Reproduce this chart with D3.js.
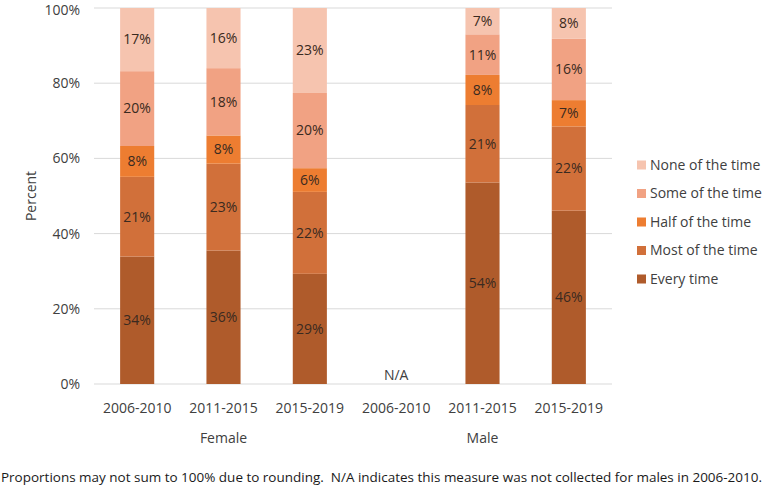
<!DOCTYPE html>
<html><head><meta charset="utf-8">
<script src="https://cdn.jsdelivr.net/npm/d3@7"></script>
<style>
body{margin:0;background:#fff;}
text{font-family:"Open Sans","Noto Sans",sans-serif;}
</style></head>
<body>
<svg id="chart" width="766" height="487"></svg>
<script>
const categories = ["2006-2010","2011-2015","2015-2019","2006-2010","2011-2015","2015-2019"];
const groups = ["Female","Male"];
const groupOf = [0,0,0,1,1,1];
const seriesNames = ["Every time","Most of the time","Half of the time","Some of the time","None of the time"];
const everyTime   = [33.9, 35.5, 29.3, null, 53.6, 46.1];
const mostTime    = [21.2, 23.1, 21.8, null, 20.6, 22.4];
const halfTime    = [8.2, 7.5, 6.3, null, 8.0, 7.0];
const someTime    = [19.9, 17.9, 20.0, null, 10.8, 16.3];
const noneTime    = [16.8, 16.0, 22.6, null, 7.0, 8.2];
const yTicks = [0,20,40,60,80,100];
const colors = ["#AF5B2B","#D1703A","#ED7D31","#F1A283","#F6C4AF"];
const seriesVals = [everyTime, mostTime, halfTime, someTime, noneTime];

const svg = d3.select("#chart");
const m = {l:94, r:154, t:8, b:103};
const W = 766, H = 487;
const x = d3.scaleBand().domain(d3.range(categories.length)).range([m.l, W-m.r]).paddingInner(0.605).paddingOuter(0.3025);
const y = d3.scaleLinear().domain([0,100]).range([H-m.b, m.t]);

// gridlines
svg.append("g").selectAll("line").data(yTicks).join("line")
  .attr("x1", m.l).attr("x2", W-m.r)
  .attr("y1", d=>y(d)).attr("y2", d=>y(d))
  .attr("stroke","#D9D9D9").attr("stroke-width",1);

// y axis labels
const yAxis = d3.axisLeft(y).tickValues(yTicks).tickFormat(d=>d+"%").tickSize(0).tickPadding(14);
const ya = svg.append("g").attr("transform",`translate(${m.l},0)`).call(yAxis);
ya.select(".domain").remove();
ya.selectAll("text").attr("font-size",14).attr("fill","#404040").style("font-family","'Open Sans',sans-serif")
  .attr("dy", d=> d===100 ? "0.45em" : "0.32em");

// stacked bars
const stacks = categories.map((c,i)=>{
  let acc=0;
  return seriesVals.map((s,k)=>{
    const v=s[i]; if(v==null) return null;
    const r={i,k,y0:acc,y1:acc+v,v}; acc+=v; return r;
  }).filter(d=>d);
}).flat();

svg.append("g").selectAll("rect").data(stacks).join("rect")
  .attr("x", d=>x(d.i)).attr("width", x.bandwidth())
  .attr("y", d=>y(d.y1)).attr("height", d=>y(d.y0)-y(d.y1))
  .attr("fill", d=>colors[d.k]);

svg.append("g").selectAll("text").data(stacks).join("text")
  .attr("x", d=>x(d.i)+x.bandwidth()/2)
  .attr("y", d=>(y(d.y0)+y(d.y1))/2)
  .attr("dy","0.35em").attr("text-anchor","middle")
  .attr("font-size",14).attr("fill","#3A2A20")
  .text(d=>Math.round(d.v)+"%");

// N/A
categories.forEach((c,i)=>{
  if(everyTime[i]==null){
    svg.append("text").attr("x",x(i)+x.bandwidth()/2).attr("y",y(0)-4)
      .attr("text-anchor","middle").attr("font-size",14).attr("fill","#404040").text("N/A");
  }
});

// x labels
svg.append("g").selectAll("text").data(categories).join("text")
  .attr("x",(d,i)=>x(i)+x.bandwidth()/2).attr("y",y(0)+29)
  .attr("text-anchor","middle").attr("font-size",14).attr("fill","#404040").text(d=>d);

groups.forEach((g,gi)=>{
  const idx = d3.range(categories.length).filter(i=>groupOf[i]===gi);
  const cx = d3.mean(idx, i=>x(i)+x.bandwidth()/2);
  svg.append("text").attr("x",cx).attr("y",y(0)+59).attr("text-anchor","middle")
    .attr("font-size",14).attr("fill","#404040").text(g);
});

// y title
svg.append("text").attr("transform",`translate(36,${(y(0)+y(100))/2}) rotate(-90)`)
  .attr("text-anchor","middle").attr("font-size",14).attr("fill","#404040").text("Percent");

// legend
const leg = svg.append("g");
const legOrder = [4,3,2,1,0];
legOrder.forEach((k,j)=>{
  const ly = 165 + j*28.5;
  leg.append("rect").attr("x",637).attr("y",ly-4.5).attr("width",9).attr("height",9).attr("fill",colors[k]);
  leg.append("text").attr("x",650).attr("y",ly).attr("dy","0.35em").attr("font-size",14).attr("fill","#404040").text(seriesNames[k]);
});

// footnote
svg.append("text").attr("x",1).attr("y",482).attr("font-size",13).attr("fill","#1a1a1a")
  .style("white-space","pre")
  .attr("textLength",761).attr("lengthAdjust","spacingAndGlyphs")
  .text("Proportions may not sum to 100% due to rounding.  N/A indicates this measure was not collected for males in 2006-2010.");
</script>
</body></html>
